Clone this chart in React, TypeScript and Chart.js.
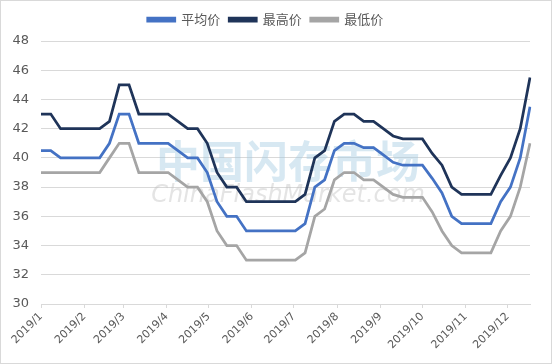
import React, { useEffect, useRef } from "react";
import { Chart, registerables } from "chart.js";

Chart.register(...registerables);

const dates = [
  "01-01", "01-08", "01-15", "01-22", "01-29",
  "02-05", "02-12", "02-19", "02-26",
  "03-05", "03-12", "03-19", "03-26",
  "04-02", "04-09", "04-16", "04-23", "04-30",
  "05-07", "05-14", "05-21", "05-28",
  "06-04", "06-11", "06-18", "06-25",
  "07-02", "07-09", "07-16", "07-23", "07-30",
  "08-06", "08-13", "08-20", "08-27",
  "09-03", "09-10", "09-17", "09-24",
  "10-01", "10-08", "10-15", "10-22", "10-29",
  "11-05", "11-12", "11-19", "11-26",
  "12-03", "12-10", "12-17",
];

const monthLabels = [
  "2019/1", "2019/2", "2019/3", "2019/4", "2019/5", "2019/6",
  "2019/7", "2019/8", "2019/9", "2019/10", "2019/11", "2019/12",
];

const avgPrice = [
  40.5, 40.5, 40, 40, 40, 40, 40, 41, 43, 43,
  41, 41, 41, 41, 40.5, 40, 40, 39, 37, 36,
  36, 35, 35, 35, 35, 35, 35, 35.5, 38, 38.5,
  40.5, 41, 41, 40.7, 40.7, 40.2, 39.7, 39.5, 39.5, 39.5,
  38.6, 37.6, 36, 35.5, 35.5, 35.5, 35.5, 37, 38, 40,
  43.5,
];

const maxPrice = [
  43, 43, 42, 42, 42, 42, 42, 42.5, 45, 45,
  43, 43, 43, 43, 42.5, 42, 42, 41, 39, 38,
  38, 37, 37, 37, 37, 37, 37, 37.5, 40, 40.5,
  42.5, 43, 43, 42.5, 42.5, 42, 41.5, 41.3, 41.3, 41.3,
  40.3, 39.5, 38, 37.5, 37.5, 37.5, 37.5, 38.8, 40, 42,
  45.5,
];

const minPrice = [
  39, 39, 39, 39, 39, 39, 39, 40, 41, 41,
  39, 39, 39, 39, 38.5, 38, 38, 37, 35, 34,
  34, 33, 33, 33, 33, 33, 33, 33.5, 36, 36.5,
  38.5, 39, 39, 38.5, 38.5, 38, 37.5, 37.3, 37.3, 37.3,
  36.3, 35, 34, 33.5, 33.5, 33.5, 33.5, 35, 36, 38,
  41,
];

const seriesNames = ["平均价", "最高价", "最低价"];
const yTicks = [30, 32, 34, 36, 38, 40, 42, 44, 46, 48];

const DAY = 86400000;
const base = Date.UTC(2019, 0, 1);
const dayOf = (s: string) => {
  const [m, d] = s.split("-").map(Number);
  return (Date.UTC(2019, m - 1, d) - base) / DAY;
};
const xDays = dates.map(dayOf);
const monthStarts = monthLabels.map((_, i) => (Date.UTC(2019, i, 1) - base) / DAY);

const watermark = {
  id: "watermark",
  beforeDatasetsDraw(chart: any) {
    const { ctx } = chart;
    ctx.save();
    ctx.fillStyle = "rgba(160,200,225,0.42)";
    ctx.font = "bold 44px 'Noto Sans CJK SC'";
    ctx.textAlign = "center";
    ctx.textBaseline = "middle";
    ctx.fillText("中国闪存市场", 287, 160);
    ctx.fillStyle = "rgba(190,190,190,0.42)";
    ctx.font = "italic 24px 'DejaVu Sans'";
    ctx.fillText("ChinaFlashMarket.com", 287, 195);
    ctx.restore();
  },
};

export default function App() {
  const ref = useRef<HTMLCanvasElement | null>(null);
  useEffect(() => {
    if (!ref.current) return;
    const mk = (vals: number[]) => vals.map((v, i) => ({ x: xDays[i], y: v }));
    const chart = new Chart(ref.current, {
      type: "line",
      data: {
        datasets: [
          { label: seriesNames[0], data: mk(avgPrice), borderColor: "#4472C4", backgroundColor: "#4472C4", borderWidth: 2.75, pointRadius: 0, tension: 0 },
          { label: seriesNames[1], data: mk(maxPrice), borderColor: "#1F3459", backgroundColor: "#1F3459", borderWidth: 2.75, pointRadius: 0, tension: 0 },
          { label: seriesNames[2], data: mk(minPrice), borderColor: "#A5A5A5", backgroundColor: "#A5A5A5", borderWidth: 2.75, pointRadius: 0, tension: 0 },
        ],
      },
      options: {
        animation: false,
        responsive: false,
        maintainAspectRatio: false,
        layout: { padding: { left: 0, right: 21, top: 3, bottom: 0 } },
        plugins: {
          tooltip: { enabled: false },
          legend: {
            position: "top",
            weight: 3000,
            labels: {
              boxWidth: 27,
              boxHeight: 3,
              padding: 9,
              color: "#595959",
              font: { size: 13, family: "'Noto Sans CJK SC'" },
            },
          },
          title: {
            display: true,
            text: "",
            font: { size: 1, lineHeight: 1 },
            padding: { top: 0, bottom: 4 },
          },
        },
        scales: {
          x: {
            type: "linear",
            bounds: "data",
            afterDataLimits: (s: any) => {
              s.min = xDays[0];
              s.max = xDays[xDays.length - 1];
            },
            afterBuildTicks: (scale: any) => {
              scale.ticks = monthStarts.map((v) => ({ value: v }));
            },
            ticks: {
              autoSkip: false,
              minRotation: 45,
              maxRotation: 45,
              color: "#595959",
              font: { size: 11, family: "'DejaVu Sans'" },
              padding: 2,
              callback: (v: any) => {
                const i = monthStarts.indexOf(Number(v));
                return i >= 0 ? monthLabels[i] : "";
              },
            },
            grid: { drawOnChartArea: false, drawTicks: true, tickLength: 4, color: "#D9D9D9" },
            border: { color: "#D9D9D9" },
            afterFit: (s: any) => { s.height = 59; },
          },
          y: {
            min: 30,
            max: 48,
            afterBuildTicks: (scale: any) => {
              scale.ticks = yTicks.map((v) => ({ value: v }));
            },
            ticks: {
              color: "#595959",
              font: { size: 13, family: "'DejaVu Sans'" },
              padding: 12,
            },
            grid: { color: "#D9D9D9", drawTicks: false },
            border: { display: false },
            afterFit: (s: any) => { s.width = 40; },
          },
        },
      },
      plugins: [watermark],
    });
    return () => chart.destroy();
  }, []);
  return (
    <div style={{ position: "fixed", left: 0, top: 0, width: 552, height: 364, boxSizing: "border-box", border: "1px solid #D9D9D9", background: "#fff" }}>
      <canvas ref={ref} width={550} height={362} style={{ display: "block" }} />
    </div>
  );
}
